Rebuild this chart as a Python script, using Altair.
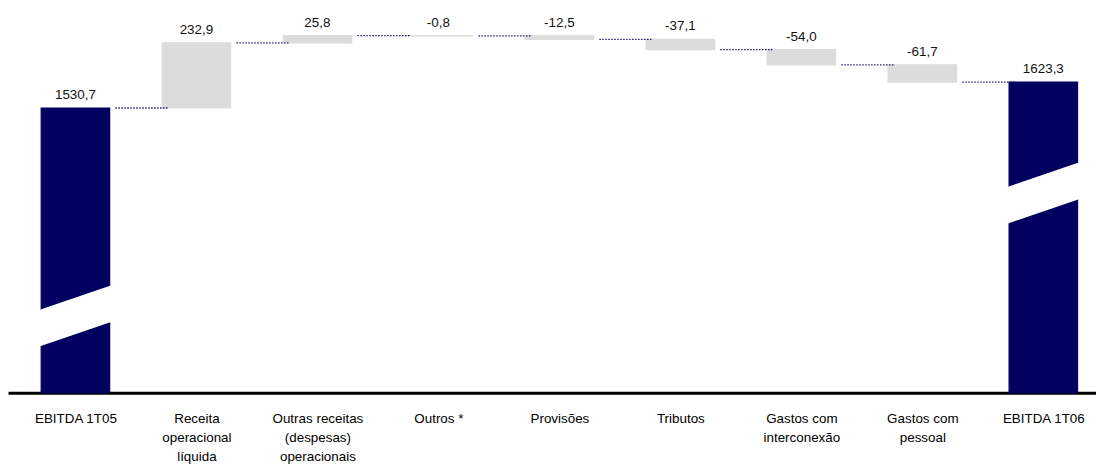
import altair as alt
import pandas as pd
import numpy as np
import json

categories = ["EBITDA 1T05", "Receita|operacional|líquida",
              "Outras receitas|(despesas)|operacionais", "Outros *", "Provisões",
              "Tributos", "Gastos com|interconexão", "Gastos com|pessoal", "EBITDA 1T06"]
values = [1530.7, 232.9, 25.8, -0.8, -12.5, -37.1, -54.0, -61.7, 1623.3]
value_labels = ["1530,7", "232,9", "25,8", "-0,8", "-12,5", "-37,1", "-54,0", "-61,7", "1623,3"]
kinds = ["total", "delta", "delta", "delta", "delta", "delta", "delta", "delta", "total"]

# broken value axis: where the white break crosses each total bar
AXIS_MIN = 513
AXIS_MAX = 1882
break_centers = [788, None, None, None, None, None, None, None, 1227]
break_half_rise = 52

HALF = 0.2805  # half bar width in category units

rows = []
running = 0.0
n = len(categories)
for i, (c, v, lab, k, bc) in enumerate(zip(categories, values, value_labels, kinds, break_centers)):
    if k == "total":
        start, end = AXIS_MIN, v
        running = v
    else:
        start, end = running, running + v
        running = running + v
    row = dict(idx=i, start=start, end=end, top=max(start, end), label=lab, kind=k)
    if i < n - 1:
        row["cx0"] = i + HALF + 0.05
        row["cx1"] = i + 1 - HALF + 0.05
    else:
        row["cx0"] = np.nan
        row["cx1"] = np.nan
    if bc is not None:
        row["bx0"] = i - HALF - 0.07
        row["bx1"] = i + HALF + 0.07
        row["blo"] = bc - break_half_rise
        row["bhi"] = bc + break_half_rise
    else:
        row["bx0"] = row["bx1"] = row["blo"] = row["bhi"] = np.nan
    rows.append(row)
df = pd.DataFrame(rows)

FONT = "Liberation Sans"
W = 1096
H = 386
xscale = alt.Scale(domain=[-0.5163, 8.3943], nice=False, zero=False)
yscale = alt.Scale(domain=[AXIS_MIN, AXIS_MAX], nice=False, zero=False)

cat_js = json.dumps(categories, ensure_ascii=False)
xaxis = alt.Axis(values=list(range(n)), ticks=False, grid=False,
                 domainColor="black", domainWidth=3, title=None,
                 labelFont=FONT, labelFontSize=13.5, labelColor="black",
                 labelPadding=19, labelLineHeight=19, labelLimit=300, labelFlush=False,
                 labelOverlap=False,
                 labelExpr=f"split({cat_js}[datum.value], '|')")

base = alt.Chart(df)

bar_layer = base.mark_bar(size=69, strokeWidth=1.2).encode(
    x=alt.X("idx:Q", scale=xscale, axis=xaxis),
    y=alt.Y("start:Q", scale=yscale, axis=None),
    y2="end:Q",
    fill=alt.Fill("kind:N", scale=alt.Scale(domain=["total", "delta"], range=["#000060", "#dcdcdc"]), legend=None),
    stroke=alt.Stroke("kind:N", scale=alt.Scale(domain=["total", "delta"], range=["#000060", "#dcdcdc"]), legend=None),
)

conn_layer = base.mark_rule(color="#1a1a70", strokeWidth=1.3, strokeDash=[1.5, 1.5]).encode(
    x=alt.X("cx0:Q"),
    x2="cx1:Q",
    y=alt.Y("end:Q"),
)

break_layer = base.mark_rule(color="white", strokeWidth=35).encode(
    x=alt.X("bx0:Q"),
    x2="bx1:Q",
    y=alt.Y("blo:Q"),
    y2="bhi:Q",
)

text_layer = base.mark_text(baseline="alphabetic", dy=-9, font=FONT, fontSize=13.5, color="#111111").encode(
    x=alt.X("idx:Q"),
    y=alt.Y("top:Q"),
    text="label:N",
)

chart = alt.layer(bar_layer, conn_layer, break_layer, text_layer).properties(
    width=W, height=H,
    autosize=alt.AutoSizeParams(type="none"),
    padding={"left": 0, "top": 0, "right": 0, "bottom": 72},
).configure_view(stroke=None)

chart.save("out.html", embed_options={"renderer": "svg", "actions": False})
